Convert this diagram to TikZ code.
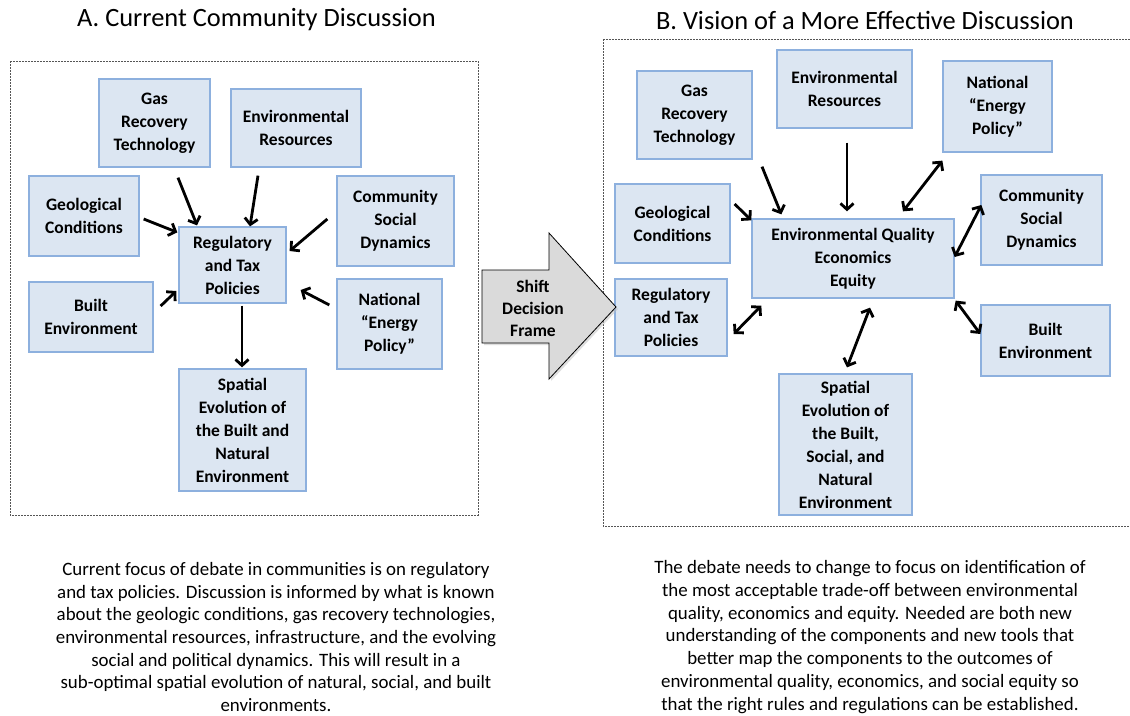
\documentclass[tikz,border=0pt]{standalone}
\usepackage{fontspec}
\setmainfont{Carlito}
\usetikzlibrary{arrows.meta}
\definecolor{boxfill}{RGB}{220,230,242}
\definecolor{boxline}{RGB}{141,176,222}
\definecolor{framegray}{RGB}{85,85,85}
\definecolor{shiftgray}{RGB}{218,218,218}
\tikzset{
  bx/.style={draw=boxline, fill=boxfill, line width=1.3pt, align=center, inner sep=0pt,
    font=\fontsize{17.5}{23}\selectfont\bfseries},
  arr/.style={line width=2.8pt, -{Straight Barb[length=6pt,width=13pt]}},
  darr/.style={line width=2.8pt, {Straight Barb[length=6pt,width=13pt]}-{Straight Barb[length=6pt,width=13pt]}},
  dframe/.style={draw=framegray, line width=0.8pt, dash pattern=on 2pt off 1pt},
  ttltext/.style={font=\fontsize{26.4}{30}\selectfont},
  captext/.style={align=center, inner sep=0.5pt, font=\fontsize{18.9}{22.7}\selectfont}
}
\newcommand{\bxnode}[6]{\node[bx, minimum width=#4pt, minimum height=#5pt] (#1) at (#2,#3) {#6};}
\begin{document}
\begin{tikzpicture}[x=1pt,y=-1pt]
\clip (0,0) rectangle (1130,715);
\fill[white] (0,0) rectangle (1130,715);
% titles
\node[ttltext] (titleA) at (256.5,20) {A. Current Community Discussion};
\node[ttltext] (titleB) at (865,20) {B. Vision of a More Effective Discussion};
% frames
\draw[dframe] (10,61) rectangle (478,515);
\draw[dframe] (603,39) rectangle (1140,526);
% left boxes
\bxnode{gasL}{154.5}{123}{111}{88}{Gas\\Recovery\\Technology}
\bxnode{envL}{296}{128}{130}{78}{Environmental\\Resources}
\bxnode{geoL}{84}{216}{110}{80}{Geological\\Conditions}
\bxnode{comL}{395.5}{221}{117}{90}{Community\\Social\\Dynamics}
\bxnode{regL}{232.5}{265}{107}{76}{Regulatory\\and Tax\\Policies}
\bxnode{bltL}{91}{317}{124}{70}{Built\\Environment}
\bxnode{natL}{389.5}{324}{105}{90}{National\\“Energy\\Policy”}
\bxnode{spaL}{242.5}{430}{127}{122}{Spatial\\Evolution of\\the Built and\\Natural\\Environment}
% left arrows
\draw[arr] ([shift={(23.5,10)}]gasL.south) -- ([shift={(-35.5,-1)}]regL.north);
\draw[arr] ([shift={(-38,8)}]envL.south) -- ([shift={(17.5,0)}]regL.north);
\draw[arr] ([shift={(4,3)}]geoL.east) -- ([shift={(-1,6)}]regL.north west);
\draw[arr] ([shift={(-9,-2)}]comL.west) -- ([shift={(3,-14)}]regL.east);
\draw[arr] ([shift={(7,-11)}]bltL.east) -- ([shift={(-2,26)}]regL.west);
\draw[arr] ([shift={(-7,-19)}]natL.west) -- ([shift={(14,25)}]regL.east);
\draw[arr] ([shift={(9.5,2)}]regL.south) -- ([shift={(-0.5,-1)}]spaL.north);
% right boxes
\bxnode{gasR}{694.5}{115}{115}{88}{Gas\\Recovery\\Technology}
\bxnode{envR}{844.5}{89}{135}{78}{Environmental\\Resources}
\bxnode{natR}{997.5}{106.5}{109}{91}{National\\“Energy\\Policy”}
\bxnode{geoR}{672.5}{223.5}{115}{79}{Geological\\Conditions}
\bxnode{comR}{1041.5}{220}{121}{90}{Community\\Social\\Dynamics}
\bxnode{cenR}{853}{258.5}{202}{79}{Environmental Quality\\Economics\\Equity}
\bxnode{regR}{671}{317.5}{112}{77}{Regulatory\\and Tax\\Policies}
\bxnode{bltR}{1045.5}{340.5}{129}{71}{Built\\Environment}
\bxnode{spaR}{845.5}{444.5}{133}{141}{Spatial\\Evolution of\\the Built,\\Social, and\\Natural\\Environment}
% right arrows
\draw[arr] ([shift={(67.5,7)}]gasR.south) -- ([shift={(30,-4)}]cenR.north west);
\draw[arr] ([shift={(2.5,14)}]envR.south) -- ([shift={(-6,-7)}]cenR.north);
\draw[arr] ([shift={(4,-19.5)}]geoR.east) -- ([shift={(0,2)}]cenR.north west);
\draw[darr] ([shift={(0,8)}]natR.south west) -- ([shift={(50,-7)}]cenR.north);
\draw[darr] ([shift={(1,-15)}]comR.west) -- ([shift={(0,-1.5)}]cenR.east);
\draw[darr] ([shift={(6,16.5)}]regR.east) -- ([shift={(10,7)}]cenR.south west);
\draw[darr] ([shift={(1.5,-6)}]spaR.north) -- ([shift={(17,9)}]cenR.south);
\draw[darr] ([shift={(0,-6.5)}]bltR.west) -- ([shift={(1,2)}]cenR.south east);
% shift arrow
\fill[black!25, opacity=0.5] (484,272) -- (551,272) -- (551,235) -- (618,309) -- (551,381) -- (551,345) -- (484,345) -- cycle;
\draw[fill=shiftgray, line width=0.8pt] (482,270) -- (549,270) -- (549,233) -- (616,307) -- (549,379) -- (549,343) -- (482,343) -- cycle;
\node[align=center, font=\fontsize{17.5}{22}\selectfont\bfseries] (shift) at (533,308) {Shift\\Decision\\Frame};
% captions
\node[captext] (capA) at (276,637) {Current focus of debate in communities is on regulatory\\and tax policies. Discussion is informed by what is known\\about the geologic conditions, gas recovery technologies,\\environmental resources, infrastructure, and the evolving\\social and political dynamics. This will result in a\\sub-optimal spatial evolution of natural, social, and built\\environments.};
\node[captext] (capB) at (870,637) {The debate needs to change to focus on identification of\\the most acceptable trade-off between environmental\\quality, economics and equity. Needed are both new\\understanding of the components and new tools that\\better map the components to the outcomes of\\environmental quality, economics, and social equity so\\that the right rules and regulations can be established.};
\end{tikzpicture}
\end{document}
